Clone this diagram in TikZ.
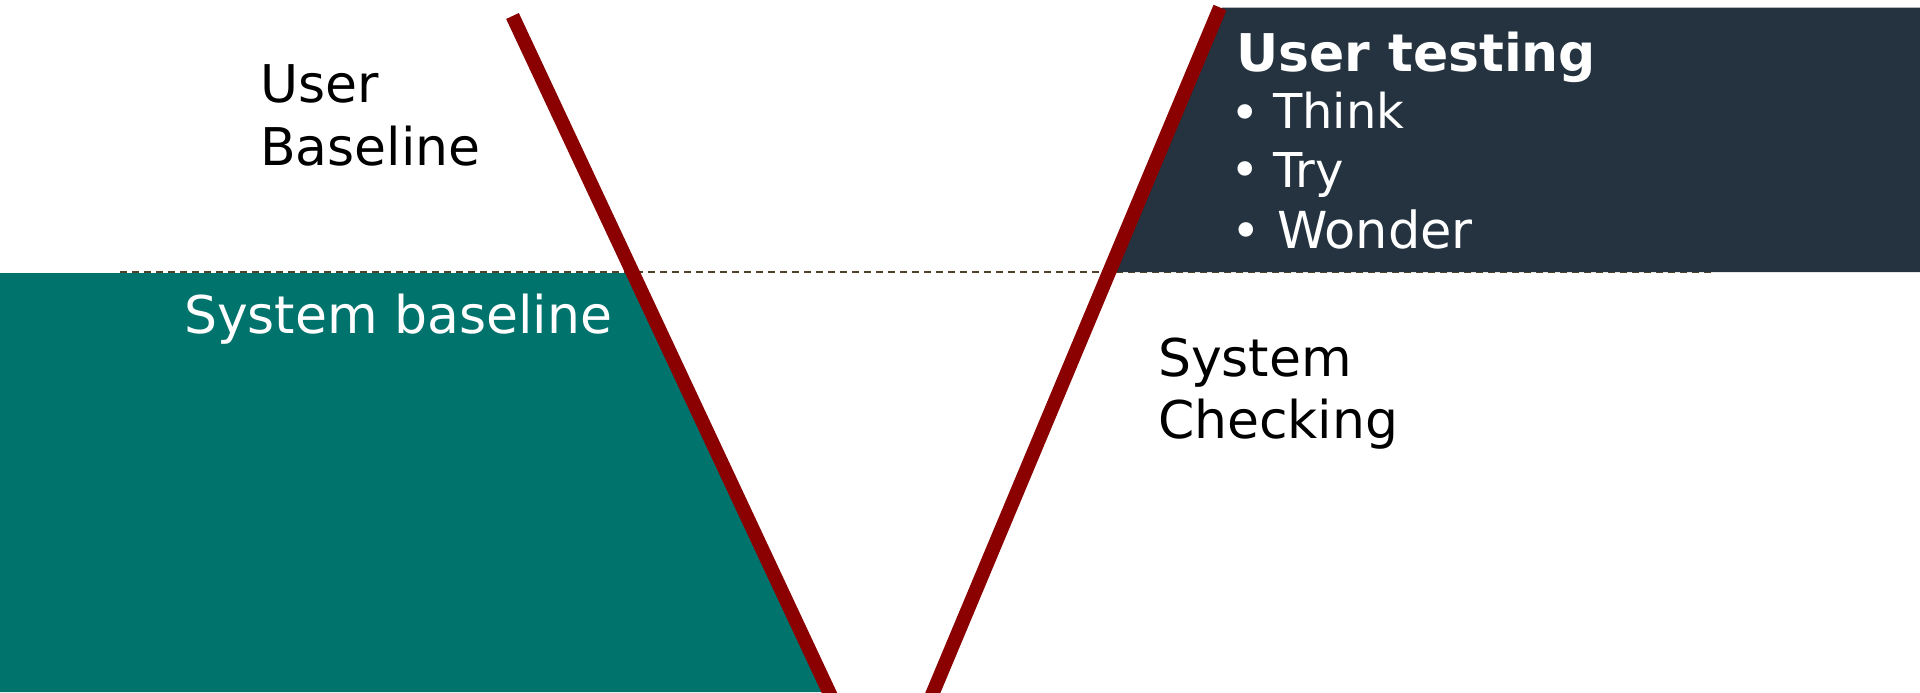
\documentclass[tikz,border=0pt]{standalone}
\usepackage{fontspec}
\setmainfont{DejaVu Sans}
\definecolor{tealbg}{RGB}{0,115,109}
\definecolor{navybg}{RGB}{36,51,63}
\definecolor{vred}{RGB}{139,0,0}
\definecolor{dashc}{RGB}{80,66,42}
\begin{document}
\begin{tikzpicture}[x=0.5pt,y=-0.5pt,
  lbl/.style={anchor=base west, inner sep=0pt, outer sep=0pt, font=\fontsize{26}{31}\selectfont},
  lblw/.style={lbl, text=white},
  itemtxt/.style={anchor=base west, inner sep=0pt, outer sep=0pt, text=white, font=\fontsize{24}{29}\selectfont},
  bul/.style={anchor=center, inner sep=0pt, outer sep=0pt, text=white, font=\fontsize{25}{28}\selectfont},
  vline/.style={draw=vred, line width=7pt, line cap=butt},
  dline/.style={draw=dashc, line width=1.3pt, dash pattern=on 3.5pt off 2.5pt}]
\useasboundingbox (0,0) rectangle (1920,692);
\fill[white] (0,0) rectangle (1920,692);
\clip (0,0) rectangle (1920,692);
% named coordinates
\coordinate (dl) at (120,272);
\coordinate (dr) at (1715,272);
\coordinate (a1) at (512.5,16);
\coordinate (b1) at (832.3,699);
\coordinate (a2) at (1220,7.5);
\coordinate (b2) at (931.5,696);
% dashed baseline
\draw[dline] (dl) -- (dr);
% teal area
\fill[tealbg] (0,273) -- (635,273) -- (830,692) -- (0,692) -- cycle;
% dark box
\fill[navybg] (1222,7.5) -- (1920,7.5) -- (1920,272) -- (1109,272) -- cycle;
% red lines
\draw[vline] (a1) -- (b1);
\draw[vline] (a2) -- (b2);
% texts
\node[lbl] (ub1) at (260,102) {User};
\node[lbl] (ub2) at (260,165) {Baseline};
\node[lblw] (sb) at (184,333) {System baseline};
\node[lbl] (sc1) at (1158,376) {System};
\node[lbl] (sc2) at (1158,438) {Checking};
\node[lblw, font=\fontsize{26}{31}\selectfont\bfseries] (ut) at (1236,71) {User testing};
\node[bul] (bl1) at (1245,118) {•};
\node[itemtxt] (it1) at (1273,128) {Think};
\node[bul] (bl2) at (1245,175) {•};
\node[itemtxt] (it2) at (1273,187) {Try};
\node[bul] (bl3) at (1246,236) {•};
\node[itemtxt, font=\fontsize{25.5}{30}\selectfont] (it3) at (1277,248) {Wonder};
\end{tikzpicture}
\end{document}
